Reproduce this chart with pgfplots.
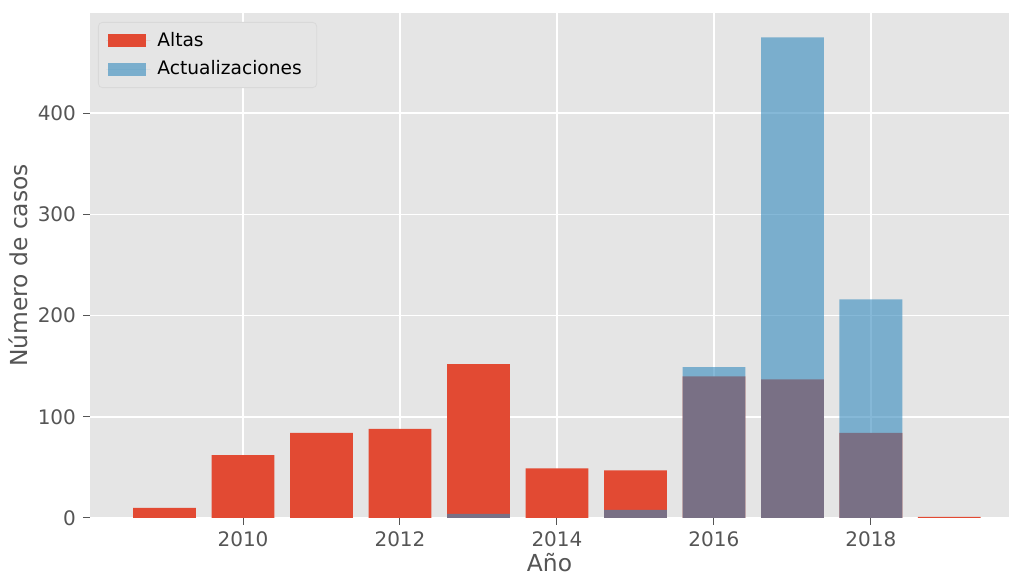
\documentclass[border=0pt]{standalone}
\usepackage{pgfplots}
\pgfplotsset{compat=1.18}
\usepackage{fontspec}
\setmainfont{DejaVu Sans}

\definecolor{ggbg}{HTML}{E5E5E5}
\definecolor{ggred}{HTML}{E24A33}
\definecolor{ggblue}{HTML}{348ABD}
\definecolor{ggtext}{HTML}{555555}

\begin{document}
\begin{tikzpicture}
\begin{axis}[
  scale only axis,
  width=459.5pt, height=252.5pt,
  xmin=2008.05, xmax=2019.76,
  ymin=0, ymax=499,
  axis background/.style={fill=ggbg},
  axis line style={draw=none},
  grid=major,
  major grid style={white, line width=0.8pt},
  xtick={2010,2012,2014,2016,2018},
  ytick={0,100,200,300,400},
  xticklabel style={/pgf/number format/1000 sep={}},
  /pgf/number format/assume math mode=true,
  tick style={ggtext, line width=0.5pt},
  tick align=outside,
  major tick length=3.5pt,
  xtick pos=bottom, ytick pos=left,
  ticklabel style={font=\fontsize{10}{12}\selectfont, text=ggtext},
  xlabel={Año}, ylabel={Número de casos},
  label style={font=\fontsize{11.7}{14}\selectfont, text=ggtext},
  xlabel style={yshift=4pt},
  ylabel style={yshift=-2pt},
  ybar, bar shift=0pt, bar width=0.8,
  legend style={at={(0,1)}, anchor=north west, xshift=4pt, yshift=-4.5pt,
    fill=ggbg, draw=black!15, rounded corners=2pt,
    font=\fontsize{9.3}{11}\selectfont, row sep=1.5pt, inner xsep=4pt, inner ysep=3pt,
    nodes={inner xsep=3.5pt}},
  legend cell align=left,
  legend image code/.code={\fill[#1, sharp corners]
    (1pt,-3.25pt) rectangle (20pt,3.25pt);
    \path (0pt,0pt) -- (22pt,0pt);},
]
\addplot[fill=ggred, draw=none] coordinates {
  (2009,10) (2010,62) (2011,84) (2012,88) (2013,152) (2014,49)
  (2015,47) (2016,140) (2017,137) (2018,84) (2019,1) };
\addlegendentry{Altas}
\addplot[fill=ggblue, fill opacity=0.6, draw=none] coordinates {
  (2013,4) (2015,8) (2016,149) (2017,475) (2018,216) };
\addlegendentry{Actualizaciones}
\end{axis}
\pgfresetboundingbox
\path (current axis.south west) ++(-45pt,-29pt) coordinate (bl);
\path (current axis.north east) ++(0pt,6.5pt) coordinate (tr);
\useasboundingbox (bl) rectangle (tr);
\end{tikzpicture}
\end{document}
